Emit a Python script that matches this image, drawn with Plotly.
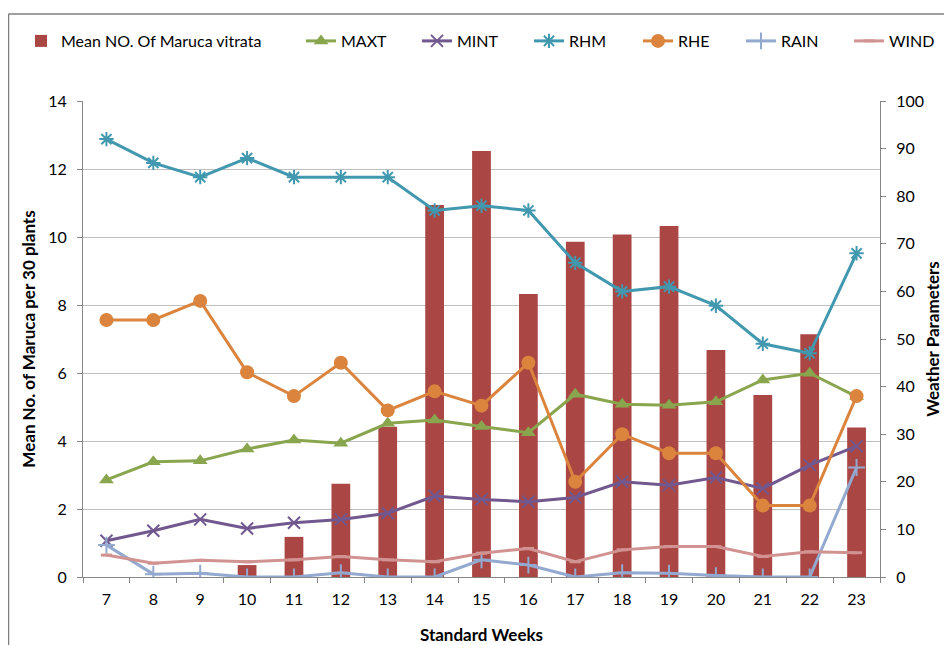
import plotly.graph_objects as go

weeks = ["7", "8", "9", "10", "11", "12", "13", "14", "15", "16", "17", "18", "19", "20", "21", "22", "23"]
maruca = [0, 0, 0, 0.35, 1.18, 2.74, 4.42, 10.94, 12.53, 8.32, 9.86, 10.07, 10.32, 6.68, 5.35, 7.14, 4.40]
maxt = [20.4, 24.2, 24.4, 26.9, 28.8, 28.1, 32.3, 33.0, 31.6, 30.3, 38.4, 36.3, 36.1, 36.8, 41.4, 42.8, 37.9]
mint = [7.6, 9.7, 12.1, 10.2, 11.4, 12.1, 13.4, 17.0, 16.3, 15.8, 16.7, 20.0, 19.3, 20.9, 18.6, 23.5, 27.5]
rhm = [92, 87, 84, 88, 84, 84, 84, 77, 78, 77, 66, 60, 61, 57, 49, 47, 68]
rhe = [54, 54, 58, 43, 38, 45, 35, 39, 36, 45, 20, 30, 26, 26, 15, 15, 38]
rain = [6.7, 0.6, 0.8, 0, 0, 0.9, 0, 0, 3.6, 2.5, 0, 0.9, 0.8, 0.3, 0, 0, 23.0]
wind = [4.6, 2.9, 3.5, 3.2, 3.6, 4.3, 3.6, 3.2, 5.0, 6.0, 3.2, 5.7, 6.4, 6.4, 4.3, 5.3, 5.1]

FONT = "Lato"
# page has an 8px body margin; plot area in page pixels: x 83..880, y 101..577
PW, PH = 797, 476
W, H = 944, 637
ML, MT = 75, 93

def px(xpage):
    return (xpage - 83) / PW

def py(ypage):
    return (577 - ypage) / PH

fig = go.Figure()
fig.add_trace(go.Bar(x=weeks, y=maruca, name="Mean NO. Of Maruca vitrata",
                     marker=dict(color="#AA4643", line=dict(width=0)),
                     width=0.4, yaxis="y", legend="legend"))

def line(name, vals, color, symbol, size, mlw, lg):
    m = dict(symbol=symbol, size=size, color=color, line=dict(color=color, width=mlw))
    fig.add_trace(go.Scatter(x=weeks, y=vals, name=name, mode="lines+markers",
                             line=dict(color=color, width=3), marker=m, yaxis="y2",
                             legend=lg))

line("MAXT", maxt, "#89A54E", "triangle-up", 13, 0, "legend2")
line("MINT", mint, "#71588F", "x-thin", 12, 2, "legend3")
line("RHM", rhm, "#4198AF", "asterisk", 12, 2, "legend4")
line("RHE", rhe, "#DB843D", "circle", 14, 0, "legend5")
line("RAIN", rain, "#93A9CF", "cross-thin", 12, 2, "legend6")
line("WIND", wind, "#D19392", "line-ew", 8, 3, "legend7")

# legend text start positions (page px)
text_starts = [61, 341, 457, 569, 678, 781, 889]
legends = {}
for i, t in enumerate(text_starts):
    key = "legend" if i == 0 else "legend%d" % (i + 1)
    legends[key] = dict(orientation="h", x=px(t - 40), y=py(41), xanchor="left", yanchor="middle",
                        font=dict(family=FONT, size=16), bgcolor="rgba(0,0,0,0)")

fig.update_layout(
    width=W, height=H,
    margin=dict(l=ML, r=W - ML - PW, t=MT, b=H - MT - PH, autoexpand=False),
    paper_bgcolor="white", plot_bgcolor="white",
    font=dict(family=FONT, size=16, color="#000000"),
    showlegend=True,
    bargap=0.6,
    xaxis=dict(type="category", range=[-0.5, len(weeks) - 0.5], autorange=False,
               showline=True, linecolor="#868686", linewidth=1, automargin=False,
               ticks="outside", ticklen=5, tickcolor="#868686", tickson="boundaries",
               tickfont=dict(size=16), showgrid=False, ticklabelstandoff=8,
               title=dict(text="<b>Standard Weeks</b>", font=dict(size=17), standoff=23)),
    yaxis=dict(range=[0, 14], dtick=2, showline=True, linecolor="#868686", linewidth=1, automargin=False,
               ticks="outside", ticklen=5, tickcolor="#868686", ticklabelstandoff=7,
               showgrid=True, gridcolor="#BFBFBF", gridwidth=1, zeroline=False,
               tickfont=dict(size=16),
               title=dict(text="<b>Mean No. of Maruca per 30 plants</b>", font=dict(size=17), standoff=8)),
    yaxis2=dict(range=[0, 100], dtick=10, overlaying="y", side="right", showline=True, automargin=False,
                linecolor="#868686", linewidth=1, ticks="outside", ticklen=5, tickcolor="#868686",
                showgrid=False, zeroline=False, tickfont=dict(size=16), ticklabelstandoff=7,
                title=dict(text="<b>Weather Parameters</b>", font=dict(size=17), standoff=4)),
    shapes=[
        dict(type="line", xref="paper", yref="paper", x0=px(8.5), x1=px(8.5),
             y0=py(14), y1=py(700), line=dict(color="#7F7F7F", width=1.5)),
        dict(type="line", xref="paper", yref="paper", x0=px(8.5), x1=px(1000),
             y0=py(14), y1=py(14), line=dict(color="#7F7F7F", width=1.5)),
    ],
    **legends,
)

fig.write_html("out.html")
